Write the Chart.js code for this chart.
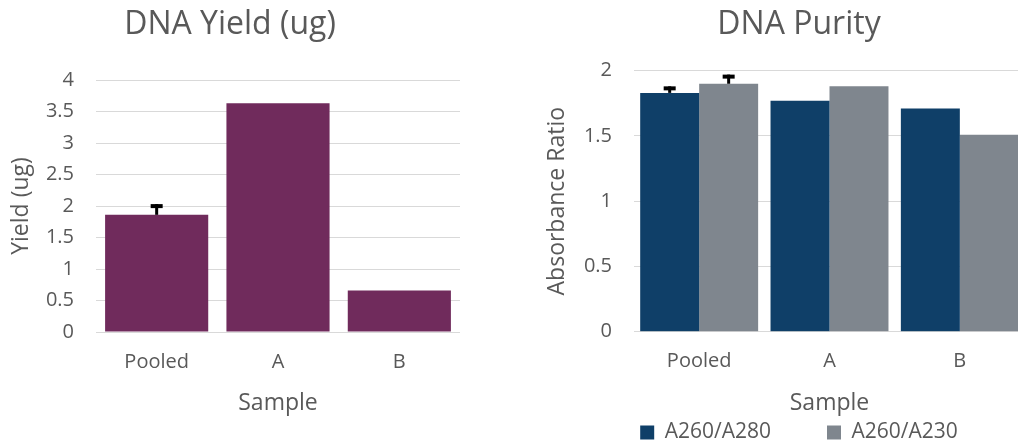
<!DOCTYPE html>
<html>
<head>
<meta charset="utf-8">
<script src="https://cdn.jsdelivr.net/npm/chart.js@4.4.1/dist/chart.umd.min.js"></script>
<style>
  html, body { margin: 0; padding: 0; background: #ffffff; overflow: hidden; }
  #wrap { position: relative; width: 1018px; height: 446px; overflow: hidden; background: #fff; }
  #c1 { position: absolute; left: 0; top: 0; }
  #c2 { position: absolute; left: 540px; top: 0; }
</style>
</head>
<body>
<div id="wrap">
  <canvas id="c1" width="460" height="446"></canvas>
  <canvas id="c2" width="518" height="446"></canvas>
</div>
<script>
// ---- data ----
const categories = ['Pooled', 'A', 'B'];
const yieldValues = [1.86, 3.63, 0.66];
const yieldErrors = [0.17, 0, 0];
const ratio280 = [1.83, 1.77, 1.71];
const ratio230 = [1.90, 1.88, 1.51];
const err280 = [0.05, 0, 0];
const err230 = [0.07, 0, 0];
const seriesNames = ['A260/A280', 'A260/A230'];
const yieldAxis = { min: 0, max: 4, step: 0.5 };
const ratioAxis = { min: 0, max: 2, step: 0.5 };

const TEXT = '#595959';
const GRID = '#d9d9d9';
Chart.defaults.font.family = "'Open Sans', sans-serif";
Chart.defaults.color = TEXT;

const errorBarPlugin = {
  id: 'errorBars',
  afterDatasetsDraw(chart) {
    const ctx = chart.ctx;
    chart.data.datasets.forEach((ds, di) => {
      if (!ds.errorPlus) return;
      const meta = chart.getDatasetMeta(di);
      const yScale = chart.scales[meta.yAxisID];
      meta.data.forEach((bar, i) => {
        const e = ds.errorPlus[i];
        if (!e) return;
        const yTop = yScale.getPixelForValue(ds.data[i] + e);
        ctx.save();
        ctx.fillStyle = '#000';
        ctx.fillRect(bar.x - 1.5, yTop, 3, bar.y - yTop);
        ctx.fillRect(bar.x - 6, yTop, 12, 4);
        ctx.restore();
      });
    });
  }
};

function yScale(range, title, titlePad, width) {
  return {
    min: range.min, max: range.max,
    ticks: { stepSize: range.step, padding: 22, color: TEXT, font: { size: 20 },
             callback: (v) => String(Math.round(v * 10) / 10) },
    grid: { color: GRID, lineWidth: 1, drawTicks: false },
    border: { display: false },
    title: { display: true, text: title, color: TEXT, font: { size: 23 }, padding: { top: titlePad, bottom: 0 } },
    afterFit(s) { s.width = width; }
  };
}

// ---- chart 1 ----
new Chart(document.getElementById('c1'), {
  type: 'bar',
  data: {
    labels: categories,
    datasets: [{
      label: 'Yield',
      data: yieldValues,
      errorPlus: yieldErrors,
      backgroundColor: '#702b5c',
      barPercentage: 0.85,
      categoryPercentage: 1.0
    }]
  },
  options: {
    responsive: false,
    animation: false,
    layout: { padding: 0 },
    plugins: {
      legend: { display: false },
      tooltip: { enabled: false },
      title: { display: true, text: 'DNA Yield (ug)', color: TEXT, font: { size: 32, weight: 'normal' }, padding: { top: 6, bottom: 35.6 } }
    },
    scales: {
      x: {
        grid: { display: false, drawTicks: false },
        border: { display: false },
        ticks: { padding: 18, color: TEXT, font: { size: 20 } },
        title: { display: true, text: 'Sample', color: TEXT, font: { size: 23 }, padding: { top: 0, bottom: 29 } },
        afterFit(s) { s.height = 114; }
      },
      y: yScale(yieldAxis, 'Yield (ug)', 8, 96)
    }
  },
  plugins: [errorBarPlugin]
});

// ---- chart 2 ----
new Chart(document.getElementById('c2'), {
  type: 'bar',
  data: {
    labels: categories,
    datasets: [{
      label: seriesNames[0],
      data: ratio280,
      errorPlus: err280,
      backgroundColor: '#0f3f68',
      barPercentage: 1.0,
      categoryPercentage: 0.905
    }, {
      label: seriesNames[1],
      data: ratio230,
      errorPlus: err230,
      backgroundColor: '#7f868e',
      barPercentage: 1.0,
      categoryPercentage: 0.905
    }]
  },
  options: {
    responsive: false,
    animation: false,
    layout: { padding: { top: 0, left: 0, right: 0, bottom: -7 } },
    plugins: {
      tooltip: { enabled: false },
      title: { display: true, text: 'DNA Purity', color: TEXT, font: { size: 32, weight: 'normal' }, padding: { top: 6, bottom: 26.3 } },
      legend: {
        display: true,
        position: 'bottom',
        labels: { boxWidth: 14, boxHeight: 14, padding: 56, color: TEXT, font: { size: 21 } }
      }
    },
    scales: {
      x: {
        grid: { display: false, drawTicks: false },
        border: { display: false },
        ticks: { padding: 18, color: TEXT, font: { size: 20 } },
        title: { display: true, text: 'Sample', color: TEXT, font: { size: 23 }, padding: { top: 0, bottom: -51 } },
        afterFit(s) {
          s.height = 34.3;
          s._computeLabelArea = () => undefined;
        }
      },
      y: yScale(ratioAxis, 'Absorbance Ratio', 4, 94),
      y2: {
        type: 'linear',
        position: 'right',
        min: 0, max: 1,
        grid: { display: false, drawTicks: false },
        border: { display: false },
        ticks: { display: false },
        afterFit(s) { s.width = 33; }
      }
    }
  },
  plugins: [errorBarPlugin]
});
</script>
</body>
</html>
